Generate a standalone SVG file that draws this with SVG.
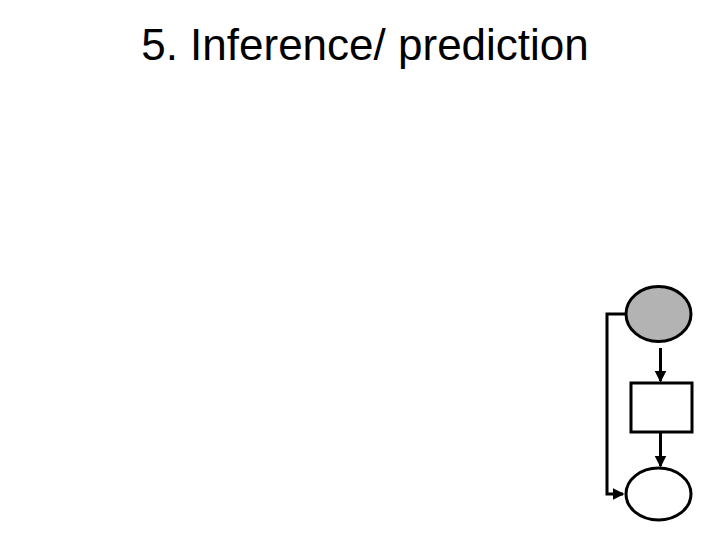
<svg xmlns="http://www.w3.org/2000/svg" width="720" height="540" viewBox="0 0 720 540">
<style>
.title{font-family:"Liberation Sans",Arial,sans-serif;font-size:44px;fill:#000}
.shape{stroke:#000;stroke-width:3}
.conn{stroke:#000;stroke-width:3;fill:none}
</style>
<defs>
<marker id="ah" markerWidth="4" markerHeight="4" refX="3.5" refY="2" orient="auto" markerUnits="strokeWidth">
<path d="M0,0 L4,2 L0,4 Z" fill="#000"/>
</marker>
</defs>
<rect width="720" height="540" fill="#fff"/>
<text class="title" x="365" y="60" text-anchor="middle">5. Inference/ prediction</text>
<g id="connectors">
<line class="conn" x1="660.5" y1="348" x2="660.5" y2="381" marker-end="url(#ah)"/>
<line class="conn" x1="660.5" y1="432" x2="660.5" y2="466" marker-end="url(#ah)"/>
<polyline class="conn" points="627,314 607,314 607,494 623,494" marker-end="url(#ah)"/>
</g>
<g id="node-top">
<ellipse class="shape" cx="658.5" cy="314" rx="32.5" ry="27.5" fill="#b3b3b3"/>
</g>
<g id="node-mid">
<rect class="shape" x="631" y="383" width="61" height="49" fill="#fff"/>
</g>
<g id="node-bottom">
<ellipse class="shape" cx="658.5" cy="494" rx="32.5" ry="26" fill="#fff"/>
</g>
</svg>
